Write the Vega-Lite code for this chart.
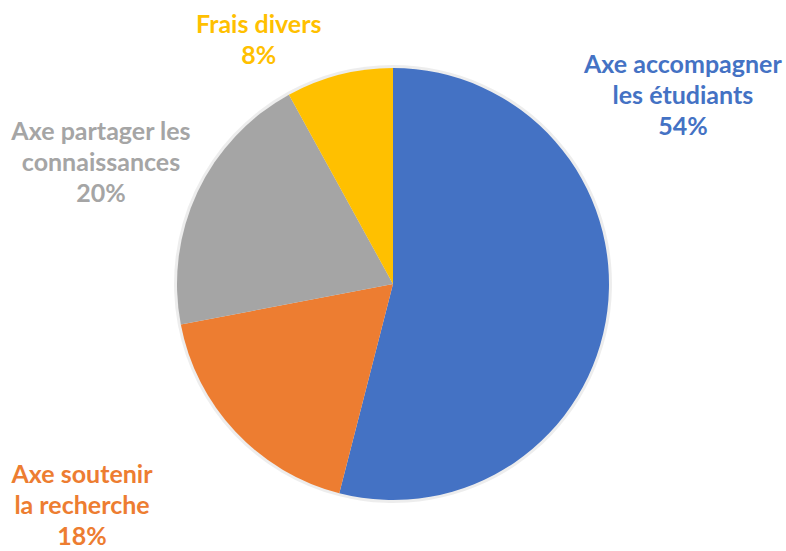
{
  "$schema": "https://vega.github.io/schema/vega-lite/v6.json",
  "width": 786,
  "height": 534,
  "autosize": "none",
  "padding": {"top": 17, "bottom": 0, "left": 0, "right": 0},
  "background": "white",
  "config": {"view": {"stroke": null}},
  "data": {
    "values": [
      {"cat": "Axe accompagner les étudiants", "label": "Axe accompagner\nles étudiants\n54%", "share": 54, "rank": 1},
      {"cat": "Axe soutenir la recherche", "label": "Axe soutenir\nla recherche\n18%", "share": 18, "rank": 2},
      {"cat": "Axe partager les connaissances", "label": "Axe partager les\nconnaissances\n20%", "share": 20, "rank": 3},
      {"cat": "Frais divers", "label": "Frais divers\n8%", "share": 8, "rank": 4}
    ]
  },
  "encoding": {
    "theta": {"field": "share", "type": "quantitative", "stack": true},
    "order": {"field": "rank", "type": "quantitative"}
  },
  "layer": [
    {
      "mark": {"type": "arc", "outerRadius": 219, "color": "#000000", "opacity": 0.07, "stroke": null}
    },
    {
      "mark": {"type": "arc", "outerRadius": 216, "stroke": null},
      "encoding": {
        "color": {
          "field": "cat",
          "type": "nominal",
          "legend": null,
          "scale": {
            "domain": ["Axe accompagner les étudiants", "Axe soutenir la recherche", "Axe partager les connaissances", "Frais divers"],
            "range": ["#4472C4", "#ED7D31", "#A5A5A5", "#FFC000"]
          }
        }
      }
    },
    {
      "mark": {
        "type": "text",
        "radius": {"expr": "datum.cat === 'Frais divers' ? 291.6 : (datum.cat === 'Axe soutenir la recherche' ? 365 : (datum.cat === 'Axe partager les connaissances' ? 329.2 : 363.4))"},
        "thetaOffset": {"expr": "datum.cat === 'Frais divers' ? -0.227 : (datum.cat === 'Axe soutenir la recherche' ? 0.203 : (datum.cat === 'Axe partager les connaissances' ? 0.040 : -0.773))"},
        "font": "Lato",
        "fontWeight": "bold",
        "fontSize": 25,
        "lineHeight": 31,
        "lineBreak": "\n",
        "align": "center",
        "baseline": "middle"
      },
      "encoding": {
        "text": {"field": "label", "type": "nominal"},
        "color": {
          "field": "cat",
          "type": "nominal",
          "legend": null
        }
      }
    }
  ]
}
